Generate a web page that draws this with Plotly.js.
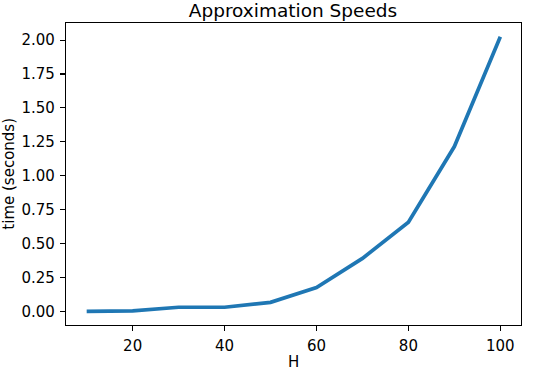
<!DOCTYPE html>
<html>
<head>
<meta charset="utf-8">
<script src="https://cdn.plot.ly/plotly-3.0.1.min.js"></script>
<style>html,body{margin:0;padding:0;background:#fff;}#chart{width:534px;height:370px;}</style>
</head>
<body>
<div id="chart"></div>
<script>
const H = [10, 20, 30, 40, 50, 60, 70, 80, 90, 100];
const timeSeconds = [0.0, 0.003, 0.03, 0.03, 0.066, 0.175, 0.39, 0.657, 1.215, 2.025];
const xTickVals = [20, 40, 60, 80, 100];
const yTickVals = [0, 0.25, 0.5, 0.75, 1.0, 1.25, 1.5, 1.75, 2.0];
const yTickText = yTickVals.map(v => v.toFixed(2));
const xTitle = 'H';
const yTitle = 'time (seconds)';

const font = {family: 'DejaVu Sans, sans-serif', size: 15, color: '#000'};
const axisCommon = {
  showgrid: false, zeroline: false, showline: true, linecolor: '#000', linewidth: 1.1,
  mirror: true, ticks: 'outside', ticklen: 5, tickwidth: 1.1, tickcolor: '#000',
  tickfont: font, ticklabelstandoff: 2
};
const data = [{
  x: H, y: timeSeconds, type: 'scatter', mode: 'lines',
  line: {color: '#1f77b4', width: 3.7}, hoverinfo: 'skip'
}];
const layout = {
  width: 534, height: 370,
  margin: {l: 66, r: 13, t: 23, b: 45},
  paper_bgcolor: '#fff', plot_bgcolor: '#fff',
  showlegend: false,
  title: {text: 'Approximation Speeds', font: {family: 'DejaVu Sans, sans-serif', size: 18.5, color: '#000'},
          x: 0.5487, xanchor: 'center', y: 0.972, yanchor: 'middle'},
  xaxis: Object.assign({}, axisCommon, {
    range: [5.5, 104.5], tickvals: xTickVals, ticktext: xTickVals.map(String)
  }),
  yaxis: Object.assign({}, axisCommon, {
    range: [-0.101, 2.126], tickvals: yTickVals, ticktext: yTickText
  }),
  annotations: [
    {text: xTitle, xref: 'paper', yref: 'paper', x: 0.5, y: -0.122, xanchor: 'center', yanchor: 'middle',
     showarrow: false, font: font},
    {text: yTitle, xref: 'paper', yref: 'paper', x: -0.126, y: 0.5, xanchor: 'center', yanchor: 'middle',
     textangle: -90, showarrow: false, font: font}
  ]
};
Plotly.newPlot('chart', data, layout, {staticPlot: true, displayModeBar: false});
</script>
</body>
</html>
